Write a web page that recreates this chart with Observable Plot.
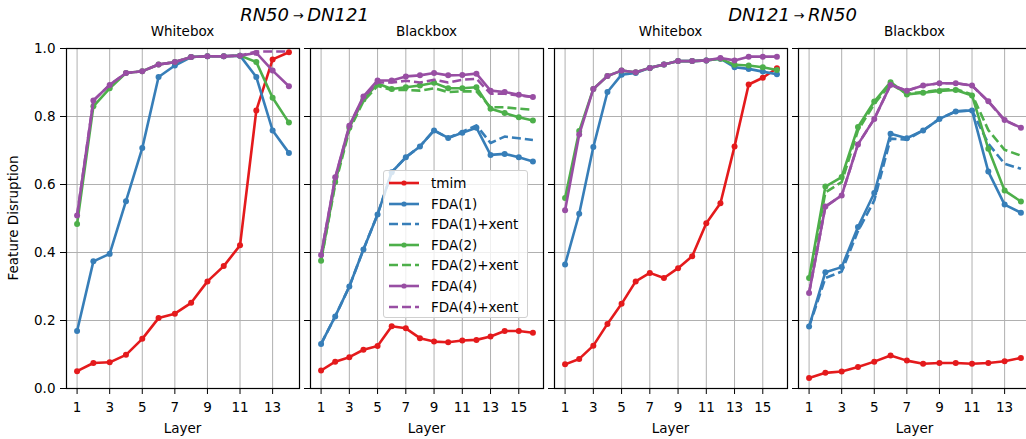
<!DOCTYPE html>
<html><head><meta charset="utf-8">
<script src="https://cdn.jsdelivr.net/npm/d3@7"></script>
<script src="https://cdn.jsdelivr.net/npm/@observablehq/plot@0.6"></script>
<style>
body{margin:0;background:#fff;}
#fig{position:relative;width:1026px;height:439px;overflow:hidden;font-family:"DejaVu Sans",sans-serif;color:#000;background:#fff;}
.t{position:absolute;white-space:nowrap;transform:translate(-50%,-50%);line-height:1;}
.p{position:absolute;}
#legend{position:absolute;left:383px;top:170px;width:145px;height:148px;box-sizing:border-box;border:1px solid #d0d0d0;border-radius:3px;background:rgba(255,255,255,0.8);font-size:13.5px;}
.lr{position:absolute;left:4px;height:20px;display:flex;align-items:center;}
.lr span{margin-left:11px;}
</style></head><body><div id="fig"></div>
<script>
// ---- categories / labels ----
const series = ["tmim","FDA(1)","FDA(1)+xent","FDA(2)","FDA(2)+xent","FDA(4)","FDA(4)+xent"];
const colors = ["#e41a1c","#377eb8","#377eb8","#4daf4a","#4daf4a","#984ea3","#984ea3"];
const dashed = [false,false,true,false,true,false,true];
const groupTitles = [["RN50","DN121"],["DN121","RN50"]];
const panelTitles = ["Whitebox","Blackbox","Whitebox","Blackbox"];
const xLabel = "Layer";
const yLabel = "Feature Disruption";
const layers14 = [1,2,3,4,5,6,7,8,9,10,11,12,13,14];
const layers16 = [1,2,3,4,5,6,7,8,9,10,11,12,13,14,15,16];
const xTicks14 = [1,3,5,7,9,11,13];
const xTicks16 = [1,3,5,7,9,11,13,15];
const yTicks = [0,0.2,0.4,0.6,0.8,1.0];

// ---- panel 1: RN50 -> DN121, whitebox ----
const p1_tmim = [0.051,0.075,0.077,0.099,0.146,0.207,0.220,0.252,0.315,0.360,0.421,0.818,0.968,0.989];
const p1_fda1 = [0.169,0.374,0.396,0.551,0.707,0.916,0.950,0.975,0.977,0.977,0.979,0.916,0.759,0.693];
const p1_fda2 = [0.484,0.830,0.883,0.928,0.933,0.953,0.960,0.975,0.977,0.977,0.979,0.960,0.855,0.782];
const p1_fda4 = [0.509,0.847,0.893,0.928,0.933,0.953,0.960,0.975,0.977,0.977,0.979,0.987,0.935,0.889];
const p1_fda4x = [0.509,0.847,0.893,0.928,0.933,0.953,0.960,0.975,0.977,0.977,0.979,0.991,0.991,0.991];

// ---- panel 2: RN50 -> DN121, blackbox ----
const p2_tmim = [0.053,0.079,0.092,0.114,0.125,0.183,0.177,0.148,0.138,0.136,0.141,0.143,0.153,0.169,0.169,0.164];
const p2_fda1 = [0.131,0.212,0.300,0.409,0.512,0.636,0.680,0.712,0.759,0.737,0.752,0.767,0.687,0.690,0.680,0.668];
const p2_fda1x = [0.131,0.212,0.300,0.409,0.512,0.636,0.680,0.712,0.759,0.737,0.755,0.774,0.722,0.741,0.736,0.731];
const p2_fda2 = [0.376,0.607,0.767,0.850,0.897,0.881,0.886,0.891,0.899,0.883,0.883,0.886,0.823,0.810,0.798,0.788];
const p2_fda2x = [0.376,0.600,0.760,0.845,0.890,0.878,0.878,0.876,0.883,0.872,0.874,0.874,0.827,0.827,0.823,0.820];
const p2_fda4 = [0.393,0.621,0.773,0.859,0.906,0.906,0.918,0.921,0.928,0.921,0.922,0.926,0.876,0.872,0.864,0.857];
const p2_fda4x = [0.393,0.618,0.772,0.856,0.900,0.900,0.905,0.900,0.908,0.900,0.908,0.911,0.867,0.867,0.862,0.857];

// ---- panel 3: DN121 -> RN50, whitebox ----
const p3_tmim = [0.071,0.087,0.126,0.190,0.249,0.315,0.340,0.325,0.354,0.389,0.486,0.545,0.712,0.894,0.914,0.942];
const p3_fda1 = [0.365,0.514,0.710,0.872,0.923,0.928,0.943,0.953,0.963,0.963,0.965,0.970,0.945,0.940,0.932,0.924];
const p3_fda2 = [0.560,0.757,0.881,0.919,0.935,0.930,0.943,0.953,0.963,0.963,0.965,0.970,0.952,0.950,0.945,0.937];
const p3_fda4 = [0.524,0.747,0.881,0.919,0.935,0.930,0.943,0.953,0.963,0.963,0.965,0.972,0.965,0.976,0.976,0.976];

// ---- panel 4: DN121 -> RN50, blackbox ----
const p4_tmim = [0.031,0.046,0.050,0.063,0.079,0.097,0.082,0.073,0.075,0.075,0.073,0.075,0.080,0.090];
const p4_fda1 = [0.182,0.342,0.357,0.475,0.575,0.749,0.736,0.759,0.793,0.815,0.818,0.638,0.541,0.517];
const p4_fda1x = [0.182,0.325,0.344,0.463,0.553,0.735,0.732,0.759,0.793,0.815,0.818,0.720,0.661,0.646];
const p4_fda2 = [0.325,0.594,0.622,0.769,0.844,0.901,0.865,0.870,0.875,0.878,0.862,0.705,0.582,0.550];
const p4_fda2x = [0.318,0.577,0.607,0.759,0.837,0.896,0.867,0.872,0.878,0.881,0.865,0.760,0.702,0.685];
const p4_fda4 = [0.281,0.535,0.568,0.718,0.793,0.893,0.876,0.891,0.898,0.898,0.891,0.845,0.790,0.767];
const p4_fda4x = [0.281,0.535,0.568,0.718,0.793,0.893,0.876,0.891,0.898,0.898,0.891,0.844,0.788,0.767];

const panels = [
  {layers: layers14, ticks: xTicks14, data: [p1_tmim,p1_fda1,null,p1_fda2,null,p1_fda4,p1_fda4x]},
  {layers: layers16, ticks: xTicks16, data: [p2_tmim,p2_fda1,p2_fda1x,p2_fda2,p2_fda2x,p2_fda4,p2_fda4x]},
  {layers: layers16, ticks: xTicks16, data: [p3_tmim,p3_fda1,null,p3_fda2,null,p3_fda4,null]},
  {layers: layers14, ticks: xTicks14, data: [p4_tmim,p4_fda1,p4_fda1x,p4_fda2,p4_fda2x,p4_fda4,p4_fda4x]}
];

// ---- layout ----
const fig = document.getElementById("fig");
const frameLefts = [66,310,554,798];
const frameW = 233, frameTop = 48, frameH = 340;
const mT = 8, mB = 36;

function addText(html, x, y, size, extra) {
  const d = document.createElement("div");
  d.className = "t";
  d.innerHTML = html;
  d.style.left = x + "px"; d.style.top = y + "px"; d.style.fontSize = size + "px";
  if (extra) Object.assign(d.style, extra);
  fig.appendChild(d);
}

panels.forEach((cfg, i) => {
  const ml = i === 0 ? 66 : 10;
  const n = cfg.layers.length;
  const pad = (n - 1) * 0.05;
  const marks = [
    Plot.gridX(cfg.ticks, {stroke: "#b0b0b0", strokeOpacity: 1, strokeWidth: 1}),
    Plot.gridY(yTicks, {stroke: "#b0b0b0", strokeOpacity: 1, strokeWidth: 1})
  ];
  series.forEach((s, k) => {
    const vals = cfg.data[k];
    if (!vals) return;
    const d = vals.map((v, j) => ({layer: cfg.layers[j], v}));
    marks.push(Plot.line(d, {x: "layer", y: "v", stroke: colors[k], strokeWidth: 2.6,
      strokeDasharray: dashed[k] ? "9,4" : null, strokeLinecap: dashed[k] ? "butt" : "round"}));
    if (!dashed[k]) marks.push(Plot.dot(d, {x: "layer", y: "v", fill: colors[k], r: 3}));
  });
  marks.push(Plot.frame({stroke: "black", strokeWidth: 1.2}));
  marks.push(Plot.axisX(cfg.ticks, {tickSize: 6, tickPadding: 8, fontSize: 13.5, label: null, tickFormat: d => String(d)}));
  marks.push(Plot.axisY(yTicks, {tickSize: 6, tickPadding: 5, fontSize: 13.5, label: null,
    tickFormat: i === 0 ? (d => d.toFixed(1)) : (() => "")}));
  const svg = Plot.plot({
    width: ml + frameW + 2, height: mT + frameH + mB,
    marginLeft: ml, marginRight: 2, marginTop: mT, marginBottom: mB,
    x: {domain: [1 - pad, n + pad]},
    y: {domain: [0, 1]},
    style: {fontFamily: "DejaVu Sans", fontSize: "13.5px", background: "transparent", color: "black", overflow: "visible"},
    marks
  });
  svg.classList.add("p");
  svg.style.left = (frameLefts[i] - ml) + "px";
  svg.style.top = (frameTop - mT) + "px";
  fig.appendChild(svg);
  const cx = frameLefts[i] + frameW / 2;
  addText(panelTitles[i], cx, 32, 13.5);
  addText(xLabel, cx, 429, 13.5);
});

groupTitles.forEach((g, j) => {
  const cx = (frameLefts[2 * j] + frameLefts[2 * j + 1] + frameW) / 2;
  addText(`<i>${g[0]}</i>\u2009<span style="font-size:13px;position:relative;top:-1px">\u2192</span>\u2009<i>${g[1]}</i>`, cx, 15, 18);
});
addText(yLabel, 14, 218, 13.5, {transform: "translate(-50%,-50%) rotate(-90deg)"});

// ---- legend ----
const leg = document.createElement("div");
leg.id = "legend";
series.forEach((s, k) => {
  const r = document.createElement("div");
  r.className = "lr";
  r.style.top = (2 + k * 20.6) + "px";
  const dash = dashed[k] ? `stroke-dasharray="9,4"` : "";
  const dot = dashed[k] ? "" : `<circle cx="16" cy="5" r="2.6" fill="${colors[k]}"/>`;
  r.innerHTML = `<svg width="32" height="10"><line x1="1" x2="31" y1="5" y2="5" stroke="${colors[k]}" stroke-width="2.6" ${dash}/>${dot}</svg><span>${s}</span>`;
  leg.appendChild(r);
});
fig.appendChild(leg);
</script></body></html>
